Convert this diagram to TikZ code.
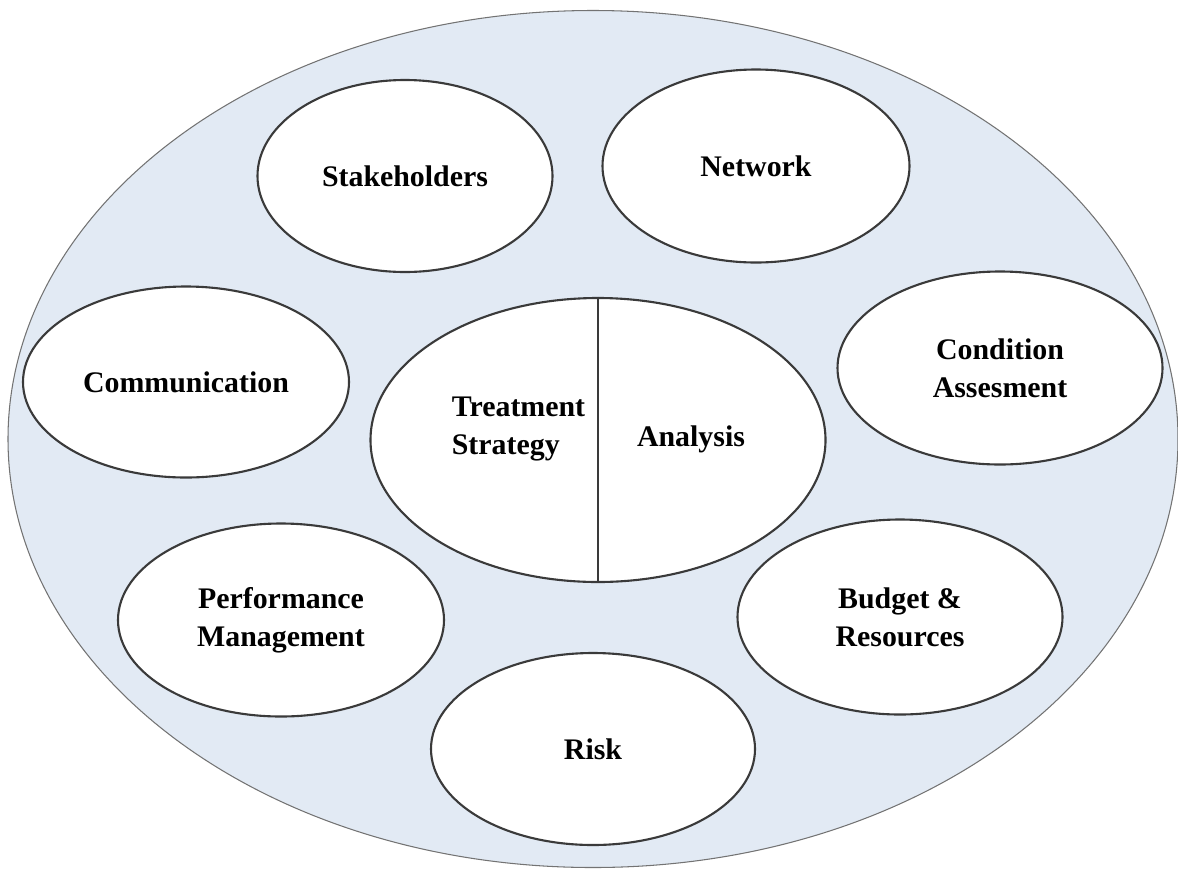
\documentclass[tikz,border=0pt]{standalone}
\usepackage{fontspec}
\setmainfont{Liberation Serif}
\usepackage{tikz}
\usetikzlibrary{shapes.geometric}

\definecolor{bgblue}{HTML}{E2EAF4}
\definecolor{edgegray}{HTML}{3A3A3A}

\begin{document}
\begin{tikzpicture}[
		every node/.style={font=\bfseries\fontsize{17}{21.5}\selectfont, align=center},
		outer/.style={ellipse, draw=gray!90!black, line width=0.6pt, fill=bgblue, inner sep=0pt},
		part/.style={ellipse, draw=edgegray, line width=1.2pt, fill=white, inner sep=0pt}
	]
		
			\useasboundingbox (0,0) rectangle (23.56,-17.40);
			
			\node[outer, minimum width=23.40cm, minimum height=17.14cm] (o) at (11.86,-8.78) {};
			
			\node[part, minimum width=5.90cm, minimum height=3.84cm] (a) at (8.10,-3.52) {Stakeholders};
			\node[part, minimum width=6.14cm, minimum height=3.86cm] (b) at (15.12,-3.32) {Network};
			
			\node[part, minimum width=6.52cm, minimum height=3.82cm] (c) at (3.72,-7.64) {Communication};
			\node[part, minimum width=6.50cm, minimum height=3.86cm] (d) at (20.00,-7.36) {Condition\\Assesment};
			
			\node[part, minimum width=9.10cm, minimum height=5.68cm] (m) at (11.96,-8.80) {};
			\node[align=left] (ts) at (10.37,-8.58) {Treatment\\Strategy};
			\node (an) at (13.82,-8.78) {Analysis};
			
			\node[part, minimum width=6.52cm, minimum height=3.86cm] (e) at (5.62,-12.40) {Performance\\Management};
			\node[part, minimum width=6.50cm, minimum height=3.90cm] (f) at (18.00,-12.34) {Budget \&\\Resources};
			\node[part, minimum width=6.48cm, minimum height=3.84cm] (g) at (11.86,-14.98) {Risk};
			
			\draw[edgegray, line width=1.3pt] (m.north) -- (m.south);
			
		\end{tikzpicture}
\end{document}
